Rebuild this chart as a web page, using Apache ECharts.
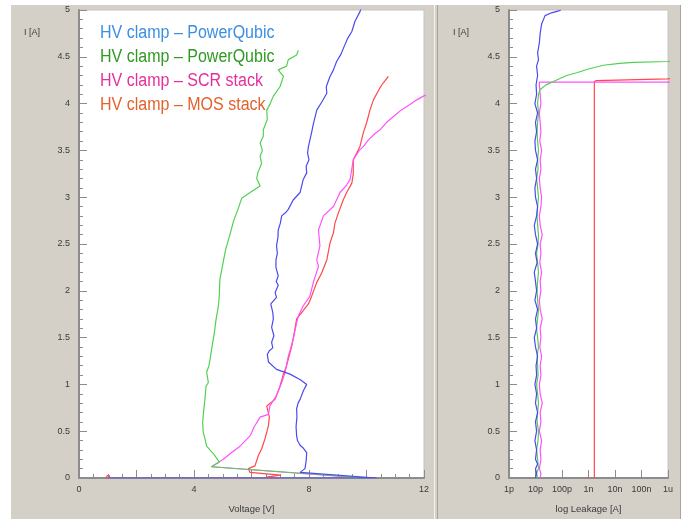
<!DOCTYPE html>
<html>
<head>
<meta charset="utf-8">
<script src="https://cdn.jsdelivr.net/npm/echarts@6/dist/echarts.min.js"></script>
<style>
  html, body { margin: 0; padding: 0; background: #ffffff; }
  #chart { width: 686px; height: 519px; }
</style>
</head>
<body>
<div id="chart"></div>
<script>
// ---- TLP I-V curves: [voltage V, current A] ----
const ivPowerQubicA = [
  [1.0, 0], [2.0, 0], [3.0, 0], [4.0, 0], [5.0, 0], [6.0, 0], [7.0, 0], [8.0, 0], [9.0, 0], [10.35, 0],
  [7.69, 0.06], [7.86, 0.10], [7.90, 0.18], [7.92, 0.27], [7.80, 0.32], [7.69, 0.35], [7.60, 0.40],
  [7.57, 0.45], [7.55, 0.55], [7.58, 0.65], [7.57, 0.74], [7.62, 0.80], [7.69, 0.84], [7.80, 0.93],
  [7.92, 1.00], [7.70, 1.05], [7.34, 1.11], [6.87, 1.16], [6.59, 1.24], [6.55, 1.32], [6.62, 1.36],
  [6.74, 1.39], [6.70, 1.45], [6.78, 1.52], [6.70, 1.61], [6.76, 1.70], [6.74, 1.77], [6.67, 1.86],
  [6.87, 1.93], [6.82, 1.98], [6.93, 2.06], [6.86, 2.10], [6.93, 2.16], [6.85, 2.25], [6.85, 2.33],
  [6.90, 2.40], [6.87, 2.48], [6.92, 2.57], [6.93, 2.65], [7.00, 2.72], [7.05, 2.80], [7.20, 2.84],
  [7.28, 2.87], [7.45, 2.97], [7.69, 3.05], [7.80, 3.19], [7.92, 3.26], [7.90, 3.33], [8.00, 3.40],
  [7.95, 3.47], [7.98, 3.54], [8.09, 3.69], [8.15, 3.78], [8.27, 3.93], [8.45, 4.02], [8.62, 4.11],
  [8.60, 4.18], [8.73, 4.29], [8.85, 4.36], [8.96, 4.45], [9.10, 4.52], [9.25, 4.63], [9.35, 4.70],
  [9.49, 4.77], [9.60, 4.88], [9.77, 4.98], [9.85, 5.05]
];
const ivPowerQubicB = [
  [1.0, 0], [3.0, 0], [5.0, 0], [7.0, 0], [9.0, 0], [10.05, 0],
  [4.61, 0.12], [4.88, 0.17], [4.70, 0.25], [4.44, 0.34], [4.38, 0.42], [4.32, 0.49], [4.30, 0.59],
  [4.33, 0.70], [4.38, 0.84], [4.42, 0.98], [4.50, 1.02], [4.44, 1.13], [4.52, 1.20], [4.56, 1.27],
  [4.60, 1.35], [4.67, 1.48], [4.72, 1.58], [4.77, 1.70], [4.85, 1.84], [4.88, 1.95], [4.90, 2.12],
  [4.98, 2.25], [5.10, 2.44], [5.25, 2.60], [5.38, 2.75], [5.53, 2.87], [5.66, 2.99], [5.95, 3.05],
  [6.30, 3.12], [6.18, 3.20], [6.22, 3.26], [6.35, 3.36], [6.30, 3.44], [6.38, 3.50], [6.30, 3.58],
  [6.41, 3.65], [6.41, 3.72], [6.55, 3.83], [6.53, 3.93], [6.65, 4.00], [6.76, 4.08], [6.99, 4.18],
  [7.11, 4.29], [6.93, 4.36], [7.22, 4.40], [7.28, 4.47], [7.57, 4.52], [7.63, 4.57]
];
const ivScrStack = [
  [1.0, 0], [3.0, 0], [5.0, 0], [7.0, 0], [9.0, 0], [9.8, 0],
  [4.61, 0.12], [5.02, 0.20], [5.30, 0.27], [5.60, 0.34], [5.95, 0.45], [6.10, 0.55], [6.30, 0.65],
  [6.59, 0.68], [6.64, 0.77], [6.87, 0.88], [7.05, 1.02], [7.17, 1.13], [7.28, 1.30], [7.45, 1.48],
  [7.57, 1.66], [7.63, 1.73], [7.80, 1.84], [8.03, 1.94], [8.15, 2.09], [8.33, 2.26], [8.27, 2.33],
  [8.38, 2.48], [8.33, 2.65], [8.50, 2.80], [8.85, 2.90], [9.08, 3.05], [9.31, 3.13], [9.43, 3.19],
  [9.54, 3.40], [9.75, 3.50], [9.89, 3.54], [10.06, 3.61], [10.30, 3.68], [10.47, 3.72], [10.70, 3.80],
  [10.93, 3.86], [11.20, 3.93], [11.51, 3.99], [11.75, 4.04], [11.98, 4.08], [12.30, 4.12]
];
const ivMosStack = [
  [0.95, 0.0], [0.98, 0.025], [1.05, 0.025], [1.08, 0.0], [3.0, 0], [5.0, 0], [7.05, 0],
  [6.53, 0.01], [7.00, 0.03], [5.95, 0.06], [5.89, 0.10], [6.12, 0.13], [6.24, 0.24], [6.35, 0.31],
  [6.47, 0.42], [6.59, 0.56], [6.62, 0.65], [6.53, 0.77], [6.82, 0.84], [6.99, 0.98], [7.10, 1.10],
  [7.22, 1.20], [7.40, 1.41], [7.51, 1.59], [7.57, 1.70], [7.75, 1.77], [7.98, 1.86], [8.09, 1.94],
  [8.27, 2.09], [8.44, 2.19], [8.62, 2.33], [8.73, 2.51], [8.85, 2.62], [8.90, 2.72], [9.02, 2.83],
  [9.19, 2.97], [9.31, 3.05], [9.49, 3.15], [9.54, 3.25], [9.54, 3.40], [9.77, 3.54], [9.89, 3.69],
  [10.00, 3.79], [10.12, 3.93], [10.24, 4.04], [10.47, 4.17], [10.58, 4.22], [10.76, 4.29]
];

// ---- Leakage after each pulse: [leakage pA, current A] ----
const lkPowerQubicA = [
  [10, 0], [11, 0.05], [10, 0.1], [12, 0.15], [10, 0.2], [11, 0.3], [9.5, 0.4], [11, 0.5], [10, 0.6],
  [12, 0.7], [10, 0.8], [11, 0.9], [9.5, 1.0], [11, 1.1], [10.5, 1.2], [12, 1.3], [10, 1.4], [9, 1.5],
  [11, 1.6], [10, 1.7], [12, 1.8], [9.5, 1.9], [11, 2.0], [10, 2.1], [9, 2.2], [11.5, 2.3], [10, 2.4],
  [12, 2.5], [10, 2.6], [9, 2.7], [11, 2.8], [12, 2.9], [10, 3.0], [9.5, 3.1], [11, 3.2], [10, 3.3],
  [12, 3.4], [10, 3.5], [9.5, 3.6], [11, 3.7], [10, 3.8], [12, 3.9], [9.5, 4.0], [11, 4.1], [10.5, 4.2],
  [12, 4.3], [11, 4.4], [13, 4.47], [12, 4.54], [14, 4.65], [15, 4.75], [17, 4.85], [23, 4.94],
  [40, 4.97], [75, 4.99], [90, 5.0]
];
const lkPowerQubicB = [
  [12, 0], [11, 0.05], [13, 0.1], [12, 0.2], [11, 0.3], [12.5, 0.4], [13, 0.5], [11.5, 0.6], [12, 0.7],
  [13, 0.8], [12, 0.9], [11, 1.0], [12.5, 1.1], [12, 1.2], [11.5, 1.3], [13, 1.4], [12, 1.5], [11, 1.6],
  [12, 1.7], [13, 1.8], [12, 1.9], [11.5, 2.0], [12, 2.1], [13, 2.2], [12, 2.3], [11, 2.4], [12.5, 2.5],
  [13, 2.6], [12, 2.7], [11.5, 2.8], [12, 2.9], [13, 3.0], [12, 3.1], [11, 3.2], [12.5, 3.3], [12, 3.4],
  [13, 3.5], [12, 3.6], [11.5, 3.7], [12, 3.8], [13, 3.9], [12, 4.0], [13, 4.1], [15, 4.15], [25, 4.20],
  [60, 4.25], [150, 4.30], [360, 4.33], [1000, 4.37], [3600, 4.41], [15000, 4.43], [50000, 4.44],
  [1000000, 4.45], [2000000, 4.455]
];
const lkScrStack = [
  [15, 0], [16, 0.05], [14, 0.1], [16, 0.2], [15, 0.3], [17, 0.4], [14, 0.5], [16, 0.6], [15, 0.7],
  [18, 0.8], [15, 0.9], [14, 1.0], [16, 1.1], [15, 1.2], [17, 1.3], [14.5, 1.4], [16, 1.5], [15, 1.6],
  [18, 1.7], [15, 1.8], [14, 1.9], [16, 2.0], [15, 2.1], [17, 2.2], [14.5, 2.3], [16, 2.4], [15, 2.5],
  [18, 2.6], [15, 2.7], [14, 2.8], [16, 2.9], [17, 3.0], [15, 3.1], [14, 3.2], [16, 3.3], [15, 3.4],
  [17, 3.5], [14.5, 3.6], [16, 3.7], [15, 3.8], [14, 3.9], [16, 4.0], [15, 4.1], [14, 4.2], [14, 4.23],
  [2000000, 4.23]
];
const lkMosStack = [
  [800, 0.0], [850, 0.02], [950, 0.02], [1000, 0.0]
];
const lkMosStackHold = [
  [1660, 0.0], [1660, 4.235], [2000, 4.245], [1000000, 4.265], [2000000, 4.27]
];

// ---- Labels ----
const seriesNames = ['HV clamp – PowerQubic', 'HV clamp – PowerQubic', 'HV clamp – SCR stack', 'HV clamp – MOS stack'];
const legendColors = ['#3b8fe3', '#2f9a22', '#e4309a', '#e3622c'];
const lineColors = ['#4a4af0', '#52d052', '#ff52ff', '#ff4848'];
const voltageLabelValues = [0, 4, 8, 12];
const leakTickValues = [1, 10, 100, 1000, 10000, 100000, 1000000];
const leakTickLabels = ['1p', '10p', '100p', '1n', '10n', '100n', '1u'];

const axisGray = '#8c8c8c';
const labelStyle = { color: '#3a3a3a', fontSize: 9, fontFamily: '"Liberation Sans", Arial, sans-serif' };

function yAxisFor(gridIndex) {
  return {
    type: 'value', gridIndex, min: 0, max: 5, interval: 0.5,
    axisLine: { show: true, onZero: false, lineStyle: { color: axisGray, width: 2 } },
    axisTick: { show: true, inside: true, length: 8, lineStyle: { color: axisGray } },
    minorTick: { show: true, splitNumber: 5, length: 4, lineStyle: { color: axisGray } },
    splitLine: { show: false },
    axisLabel: Object.assign({ margin: 9 }, labelStyle)
  };
}

function line(name, data, color, xi, z) {
  return {
    name, type: 'line', data, xAxisIndex: xi, yAxisIndex: xi,
    showSymbol: false, symbol: 'none', clip: true, silent: true, z,
    lineStyle: { color, width: 1.2 }
  };
}

const chart = echarts.init(document.getElementById('chart'), null, { renderer: 'canvas' });

// Series captions, drawn slightly condensed
const legendTexts = seriesNames.map((t, i) => ({
  type: 'text', x: 100, y: 33 + i * 24, scaleX: 0.89, scaleY: 1, originX: 0, originY: 0, z: 100,
  style: { text: t, fill: legendColors[i], verticalAlign: 'middle', font: '18px "Liberation Sans", Arial, sans-serif' }
}));

chart.setOption({
  animation: false,
  backgroundColor: 'transparent',
  graphic: { elements: [
    { type: 'rect', shape: { x: 11, y: 5, width: 422, height: 514 }, style: { fill: '#d4d0c8' }, z: -10 },
    { type: 'rect', shape: { x: 433, y: 5, width: 248, height: 514 }, style: { fill: '#d4d0c8' }, z: -10 },
    { type: 'line', shape: { x1: 434.5, y1: 5, x2: 434.5, y2: 519 }, style: { stroke: '#f4f3ef', lineWidth: 1 }, z: -9 },
    { type: 'line', shape: { x1: 437.5, y1: 5, x2: 437.5, y2: 519 }, style: { stroke: '#a8a49c', lineWidth: 1 }, z: -9 },
    { type: 'line', shape: { x1: 680.5, y1: 5, x2: 680.5, y2: 519 }, style: { stroke: '#a8a49c', lineWidth: 1 }, z: -9 },
    { type: 'text', left: 24, top: 28, z: 100, style: { text: 'I [A]', fill: '#3a3a3a', font: '9px "Liberation Sans", Arial, sans-serif' } },
    { type: 'text', left: 453, top: 28, z: 100, style: { text: 'I [A]', fill: '#3a3a3a', font: '9px "Liberation Sans", Arial, sans-serif' } }
  ].concat(legendTexts) },
  grid: [
    { left: 79, top: 10, width: 345, height: 469, show: true, backgroundColor: '#ffffff', borderColor: '#c4c4c4', borderWidth: 1 },
    { left: 509, top: 10, width: 159, height: 469, show: true, backgroundColor: '#ffffff', borderColor: '#c4c4c4', borderWidth: 1 }
  ],
  xAxis: [
    {
      type: 'value', gridIndex: 0, min: 0, max: 12, interval: 2,
      name: 'Voltage [V]', nameLocation: 'middle', nameGap: 26,
      nameTextStyle: { color: '#3a3a3a', fontSize: 9.5, fontFamily: '"Liberation Sans", Arial, sans-serif' },
      axisLine: { show: true, onZero: false, lineStyle: { color: axisGray, width: 2 } },
      axisTick: { show: true, inside: true, length: 8, lineStyle: { color: axisGray } },
      minorTick: { show: true, splitNumber: 4, length: 4, lineStyle: { color: axisGray } },
      splitLine: { show: false },
      axisLabel: Object.assign({
        margin: 7,
        formatter: v => (voltageLabelValues.indexOf(v) >= 0 ? String(v) : '')
      }, labelStyle)
    },
    {
      type: 'log', logBase: 10, gridIndex: 1, min: 1, max: 1000000,
      name: 'log Leakage [A]', nameLocation: 'middle', nameGap: 26,
      nameTextStyle: { color: '#3a3a3a', fontSize: 9.5, fontFamily: '"Liberation Sans", Arial, sans-serif' },
      axisLine: { show: true, onZero: false, lineStyle: { color: axisGray, width: 2 } },
      axisTick: { show: true, inside: true, length: 8, lineStyle: { color: axisGray } },
      minorTick: { show: false },
      splitLine: { show: false },
      axisLabel: Object.assign({
        margin: 7,
        formatter: v => {
          const k = leakTickValues.findIndex(t => Math.abs(Math.log10(t) - Math.log10(v)) < 1e-6);
          return k >= 0 ? leakTickLabels[k] : '';
        }
      }, labelStyle)
    }
  ],
  yAxis: [yAxisFor(0), yAxisFor(1)],
  series: [
    line(seriesNames[3], ivMosStack, lineColors[3], 0, 2),
    line(seriesNames[2], ivScrStack, lineColors[2], 0, 3),
    line(seriesNames[1], ivPowerQubicB, lineColors[1], 0, 4),
    line(seriesNames[0], ivPowerQubicA, lineColors[0], 0, 5),
    line(seriesNames[3], lkMosStack, lineColors[3], 1, 2),
    line(seriesNames[3], lkMosStackHold, lineColors[3], 1, 2),
    line(seriesNames[2], lkScrStack, lineColors[2], 1, 3),
    line(seriesNames[1], lkPowerQubicB, lineColors[1], 1, 4),
    line(seriesNames[0], lkPowerQubicA, lineColors[0], 1, 5)
  ]
});
</script>
</body>
</html>
